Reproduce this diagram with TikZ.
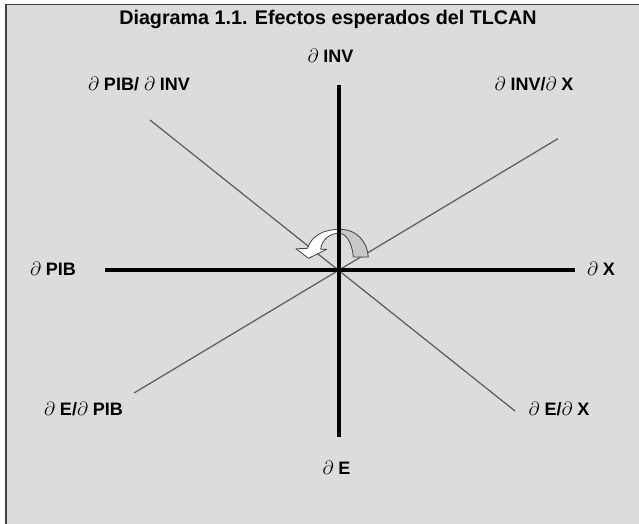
\documentclass[tikz,border=0pt]{standalone}
\usepackage{fontspec}
\setmainfont{Liberation Sans}
\definecolor{bgc}{RGB}{220,220,220}
\definecolor{framec}{RGB}{64,64,64}
\definecolor{diagc}{RGB}{90,90,90}
\definecolor{tailc}{RGB}{200,200,200}
\begin{document}
\begin{tikzpicture}[x=0.75pt,y=-0.75pt,
  lab/.style={font=\bfseries\fontsize{13.5}{16}\selectfont, inner sep=0pt, anchor=base, text=black},
  ttl/.style={font=\bfseries\fontsize{14.8}{18}\selectfont, inner sep=0pt, anchor=base, text=black},
  axisline/.style={line width=2.4pt, black},
  diagline/.style={line width=0.9pt, diagc},
  arrowpart/.style={draw=framec, line width=0.6pt, line join=round}]
\useasboundingbox (0,0) rectangle (639,524);
\fill[white] (0,0) rectangle (639,524);
\fill[bgc] (6,4.5) rectangle (639,524);
\draw[framec, line width=1.1pt] (6,524) -- (6,4.5) -- (639,4.5);

% coordinates
\coordinate (O) at (339,270);
\coordinate (vt) at (339,85);
\coordinate (vb) at (339,437);
\coordinate (hl) at (105,270);
\coordinate (hr) at (575,270);
\coordinate (d1a) at (150,120);
\coordinate (d1b) at (515,411);
\coordinate (d2a) at (134,393);
\coordinate (d2b) at (558,138.6);

% diagonals
\draw[diagline] (d1a) -- (d1b);
\draw[diagline] (d2a) -- (d2b);

% curved rotation arrow
\filldraw[arrowpart, fill=tailc] (340,229.3) .. controls (357,229.3) and (367.5,242) .. (368.3,257)
  -- (353.3,257) .. controls (352.5,245) and (347,234) .. (340,233.3) -- cycle;
\filldraw[arrowpart, fill=white] (340,229.3) .. controls (326,229.3) and (312,234) .. (307.5,248.3)
  -- (296,248.8) -- (308.5,258.3) -- (326.7,249.3) -- (320.7,249.3)
  .. controls (321.5,240) and (330,232.7) .. (340,233.3) -- cycle;

% axes
\draw[axisline] (vt) -- (vb);
\draw[axisline] (hl) -- (hr);

% labels
\node[ttl] (title) at (328,25) {Diagrama 1.1. Efectos esperados del TLCAN};
\node[lab] (inv) at (330.5,63) {$\partial$ INV};
\node[lab] (pibinv) at (139,91) {$\partial$ PIB/ $\partial$ INV};
\node[lab] (invx) at (534,91) {$\partial$ INV/$\partial$ X};
\node[lab] (pib) at (53,275) {$\partial$ PIB};
\node[lab] (x) at (601,275) {$\partial$ X};
\node[lab] (epib) at (83.5,415) {$\partial$ E/$\partial$ PIB};
\node[lab] (ex) at (559,415) {$\partial$ E/$\partial$ X};
\node[lab] (e) at (336.5,474) {$\partial$ E};
\end{tikzpicture}
\end{document}
